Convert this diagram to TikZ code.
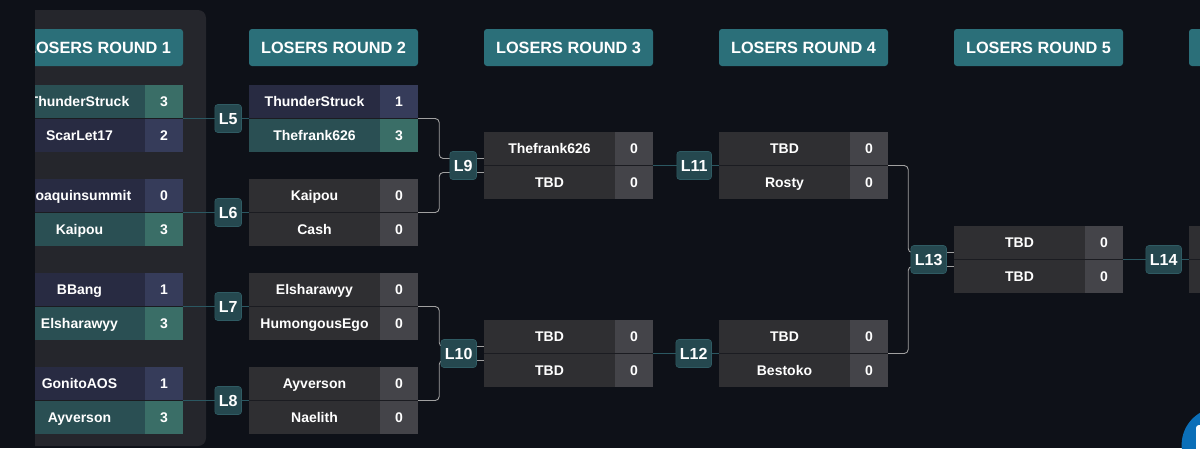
\documentclass[tikz,border=0pt]{standalone}
\usepackage{fontspec}
\setmainfont{Liberation Sans}
\usetikzlibrary{calc}
\definecolor{bg}{HTML}{0E1118}
\definecolor{panel}{HTML}{25262C}
\definecolor{hdr}{HTML}{2B6F79}
\definecolor{twN}{HTML}{2A4F53}
\definecolor{twS}{HTML}{3A6E67}
\definecolor{lsN}{HTML}{282B42}
\definecolor{lsS}{HTML}{363C5A}
\definecolor{pdN}{HTML}{2F2F32}
\definecolor{pdS}{HTML}{444449}
\definecolor{badgefill}{HTML}{25484F}
\definecolor{badgeedge}{HTML}{2F5B63}
\definecolor{tline}{HTML}{2B5862}
\definecolor{gline}{HTML}{A0A0A0}
\definecolor{divc}{HTML}{1B1C21}
\definecolor{fab}{HTML}{0B6FB8}
\tikzset{
  hdrbox/.style={fill=hdr, rounded corners=3pt, minimum width=169pt, minimum height=37pt,
    inner sep=0pt, text=white, text height=11.7pt, text depth=0pt,
    font=\bfseries\fontsize{16.3}{18}\selectfont},
  matchbox/.style={minimum width=169pt, minimum height=67pt, inner sep=0pt},
  namecell/.style={fill=#1N, minimum width=131pt, minimum height=33.5pt, inner sep=0pt,
    anchor=north west, text=white, text height=10pt, text depth=0pt,
    font=\bfseries\fontsize{14}{16}\selectfont},
  scorecell/.style={fill=#1S, minimum width=38pt, minimum height=33.5pt, inner sep=0pt,
    anchor=north west, text=white, text height=10pt, text depth=0pt,
    font=\bfseries\fontsize{14}{16}\selectfont},
  divline/.style={draw=divc, line width=1pt},
  tealline/.style={draw=tline, line width=1pt},
  grayline/.style={draw=gline, line width=0.9pt, rounded corners=4pt},
  badgebox/.style={fill=badgefill, draw=badgeedge, line width=0.6pt, rounded corners=3pt,
    minimum height=28pt, inner xsep=4pt, inner ysep=0pt, anchor=east, text=white,
    text height=11.5pt, text depth=0pt, font=\bfseries\fontsize{16}{18}\selectfont}
}
\newcommand{\Match}[9]{%
  \node[matchbox] (#1) at ({#2+84.5},{#3+33.5}) {};
  \node[namecell=#6] (#1-n1) at (#1.north west) {#4\hspace{6pt}};
  \node[scorecell=#6] (#1-s1) at ($(#1.north west)+(131,0)$) {#5};
  \node[namecell=#9] (#1-n2) at ($(#1.north west)+(0,33.5)$) {#7\hspace{6pt}};
  \node[scorecell=#9] (#1-s2) at ($(#1.north west)+(131,33.5)$) {#8};
  \draw[divline] (#1.west) -- (#1.east);
}
\begin{document}
\begin{tikzpicture}[x=1pt,y=-1pt]
\useasboundingbox (0,0) rectangle (1200,448);
\clip (0,0) rectangle (1200,448);
\fill[bg] (0,0) rectangle (1200,448);
% round 1 (scrolled, clipped)
\begin{scope}
  \clip (35,0) rectangle (1200,448);
  \fill[panel, rounded corners=8pt] (20,10) rectangle (206,446);
  \node[hdrbox] (h1) at (98.5,47.5) {LOSERS ROUND 1};
  \Match{r1a}{14}{85}{ThunderStruck}{3}{tw}{ScarLet17}{2}{ls}
  \Match{r1b}{14}{179}{Joaquinsummit}{0}{ls}{Kaipou}{3}{tw}
  \Match{r1c}{14}{273}{BBang}{1}{ls}{Elsharawyy}{3}{tw}
  \Match{r1d}{14}{367}{GonitoAOS}{1}{ls}{Ayverson}{3}{tw}
\end{scope}
% headers
\node[hdrbox] (h2) at (333.5,47.5) {LOSERS ROUND 2};
\node[hdrbox] (h3) at (568.5,47.5) {LOSERS ROUND 3};
\node[hdrbox] (h4) at (803.5,47.5) {LOSERS ROUND 4};
\node[hdrbox] (h5) at (1038.5,47.5) {LOSERS ROUND 5};
\node[hdrbox] (h6) at (1273.5,47.5) {};
% round 2
\Match{r2a}{249}{85}{ThunderStruck}{1}{ls}{Thefrank626}{3}{tw}
\Match{r2b}{249}{179}{Kaipou}{0}{pd}{Cash}{0}{pd}
\Match{r2c}{249}{273}{Elsharawyy}{0}{pd}{HumongousEgo}{0}{pd}
\Match{r2d}{249}{367}{Ayverson}{0}{pd}{Naelith}{0}{pd}
% round 3
\Match{r3a}{484}{132}{Thefrank626}{0}{pd}{TBD}{0}{pd}
\Match{r3b}{484}{320}{TBD}{0}{pd}{TBD}{0}{pd}
% round 4
\Match{r4a}{719}{132}{TBD}{0}{pd}{Rosty}{0}{pd}
\Match{r4b}{719}{320}{TBD}{0}{pd}{Bestoko}{0}{pd}
% round 5
\Match{r5a}{954}{226}{TBD}{0}{pd}{TBD}{0}{pd}
% round 6 (cut off)
\Match{r6a}{1189}{226}{}{}{pd}{}{}{pd}
% connectors
\draw[tealline] (r1a.east) -- (r2a.west);
\draw[tealline] (r1b.east) -- (r2b.west);
\draw[tealline] (r1c.east) -- (r2c.west);
\draw[tealline] (r1d.east) -- (r2d.west);
\draw[grayline] (r2a.east) -- ++(21,0) |- ($(r3a.west)+(0,-7)$);
\draw[grayline] (r2b.east) -- ++(21,0) |- ($(r3a.west)+(0,7)$);
\draw[grayline] (r2c.east) -- ++(21,0) |- ($(r3b.west)+(0,-7)$);
\draw[grayline] (r2d.east) -- ++(21,0) |- ($(r3b.west)+(0,7)$);
\draw[tealline] (r3a.east) -- (r4a.west);
\draw[tealline] (r3b.east) -- (r4b.west);
\draw[grayline] (r4a.east) -- ++(20,0) |- ($(r5a.west)+(0,-7)$);
\draw[grayline] (r4b.east) -- ++(20,0) |- ($(r5a.west)+(0,7)$);
\draw[tealline] (r5a.east) -- (r6a.west);
% badges
\node[badgebox] (L5) at ($(r2a.west)+(-7,0)$) {L5};
\node[badgebox] (L6) at ($(r2b.west)+(-7,0)$) {L6};
\node[badgebox] (L7) at ($(r2c.west)+(-7,0)$) {L7};
\node[badgebox] (L8) at ($(r2d.west)+(-7,0)$) {L8};
\node[badgebox] (L9) at ($(r3a.west)+(-7,0)$) {L9};
\node[badgebox] (L10) at ($(r3b.west)+(-7,0)$) {L10};
\node[badgebox] (L11) at ($(r4a.west)+(-7,0)$) {L11};
\node[badgebox] (L12) at ($(r4b.west)+(-7,0)$) {L12};
\node[badgebox] (L13) at ($(r5a.west)+(-7,0)$) {L13};
\node[badgebox] (L14) at ($(r6a.west)+(-7,0)$) {L14};
% floating button (cut off)
\fill[fab] (1219,445) circle (37.4);
\fill[white, rounded corners=3pt] (1196,425) rectangle (1240,470);
\end{tikzpicture}
\end{document}
